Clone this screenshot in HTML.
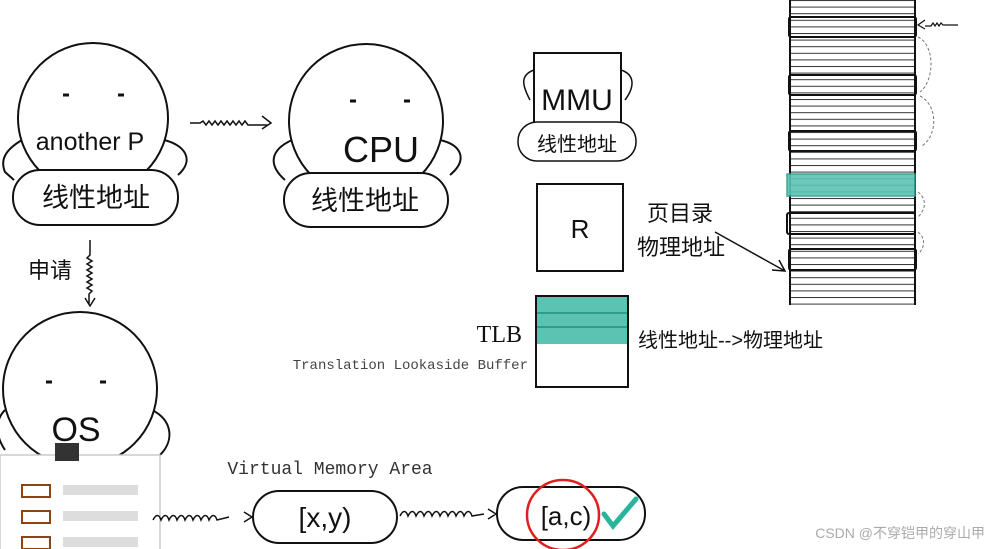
<!DOCTYPE html>
<html><head><meta charset="utf-8"><style>
html,body{margin:0;padding:0;background:#fff;width:991px;height:549px;overflow:hidden}
svg text{font-family:"Liberation Sans","Noto Sans CJK SC",sans-serif;fill:#111}
</style></head><body>
<svg width="991" height="549" viewBox="0 0 991 549" xmlns="http://www.w3.org/2000/svg">
<defs>
<pattern id="rows" x="0" y="0" width="10" height="6.6" patternUnits="userSpaceOnUse">
<line x1="0" y1="0.5" x2="10" y2="0.5" stroke="#333" stroke-width="1"/>
</pattern>
</defs>
<g fill="none" stroke="#111" stroke-width="2">
<!-- head 1 -->
<path d="M22,140 C5,150 0,160 5,172 L14,180 M164,140 C185,145 195,160 178,175"/>
<circle cx="93" cy="118" r="75" fill="#fff"/>
<rect x="13" y="170" width="165" height="55" rx="27" fill="#fff"/>
<!-- head 2 -->
<path d="M292,140 C270,150 268,165 285,180 M440,140 C462,145 468,160 450,175"/>
<circle cx="366" cy="121" r="77" fill="#fff"/>
<rect x="284" y="173" width="164" height="54" rx="27" fill="#fff"/>
<!-- wavy arrow -->
<path stroke-width="1.5" d="M190,123 l10,0 l3,-2 l3,4 l3,-4 l3,4 l3,-4 l3,4 l3,-4 l3,4 l3,-4 l3,4 l3,-4 l3,4 l3,-4 l3,4 l3,-4 l3,4 l20,0 M262,116 l9,7 l-9,6"/>
<!-- 申请 arrow -->
<path stroke-width="1.5" d="M90,240 l0,15 l-3,3 l5,3 l-5,3 l5,3 l-5,3 l5,3 l-5,3 l5,3 l-5,3 l5,3 l-5,3 l5,3 l-3,3 l0,10 M85,298 l5,8 l5,-8"/>
<!-- MMU -->
<path stroke-width="1.5" d="M534,70 C520,75 522,85 530,100 M621,70 C636,75 634,88 625,100"/>
<rect x="534" y="53" width="87" height="71" fill="#fff"/>
<rect x="518" y="122" width="118" height="39" rx="19" fill="#fff" stroke-width="1.5"/>
<rect x="537" y="184" width="86" height="87"/>
<!-- TLB -->
<rect x="536" y="296" width="92" height="48" fill="#5cc3b3" stroke="none"/>
<line x1="536" y1="313" x2="628" y2="313" stroke="#2e9e8c"/>
<line x1="536" y1="327" x2="628" y2="327" stroke="#2e9e8c"/>
<rect x="536" y="296" width="92" height="91"/>
<!-- arrow to memory -->
<path stroke-width="1.5" d="M715,232 L785,271 M772,270 L785,271 L779,260"/>
<!-- memory column -->
<rect x="790" y="0" width="125" height="305" fill="url(#rows)" stroke="none"/>
<line x1="790" y1="0" x2="790" y2="305"/>
<line x1="915" y1="0" x2="915" y2="305"/>
<rect x="787" y="174" width="128" height="22" fill="#5cc3b3" stroke="#2e9e8c" stroke-width="1.5" opacity="0.9"/>
<rect x="789" y="17" width="127" height="20" rx="2"/>
<rect x="789" y="75" width="127" height="20" rx="2"/>
<rect x="789" y="131" width="127" height="20" rx="2"/>
<rect x="787" y="213" width="128" height="21" rx="2"/>
<rect x="789" y="249" width="127" height="21" rx="2"/>
<path stroke-width="1.2" d="M958,25 l-15,0 l-2,-2 l-2,3 l-2,-3 l-2,3 l-2,-3 l-2,3 l-6,0 M925,20 l-7,5 l7,4"/>
<path stroke="#777" stroke-width="1" stroke-dasharray="3,2" d="M918,37 C935,45 935,80 920,92 M920,96 C938,105 938,135 922,146 M918,192 C928,200 925,210 918,217 M918,232 C926,238 925,248 918,254"/>
<!-- OS -->
<path d="M5,410 C-5,420 -5,435 5,450 M152,410 C172,420 175,440 160,455"/>
<circle cx="80" cy="389" r="77" fill="#fff"/>
<rect x="0" y="455" width="160" height="100" fill="#fff" stroke="#ccc" stroke-width="1.5"/>
<rect x="55" y="443" width="24" height="18" fill="#333" stroke="none"/>
<rect x="22" y="485" width="28" height="12" stroke="#8b4513"/>
<rect x="22" y="511" width="28" height="12" stroke="#8b4513"/>
<rect x="22" y="537" width="28" height="12" stroke="#8b4513"/>
<rect x="63" y="485" width="75" height="10" fill="#ddd" stroke="none"/>
<rect x="63" y="511" width="75" height="10" fill="#ddd" stroke="none"/>
<rect x="63" y="537" width="75" height="10" fill="#ddd" stroke="none"/>
<!-- bottom wavy -->
<path stroke-width="1.5" d="M153,520 c3,-6 6,-6 8,0 c3,-6 6,-6 8,0 c3,-6 6,-6 8,0 c3,-6 6,-6 8,0 c3,-6 6,-6 8,0 c3,-6 6,-6 8,0 c3,-6 6,-6 8,0 c3,-6 6,-6 8,0 l12,-3 M244,512 l8,5 l-8,5"/>
<rect x="253" y="491" width="144" height="52" rx="26"/>
<path stroke-width="1.5" d="M400,516 c3,-6 6,-6 8,0 c3,-6 6,-6 8,0 c3,-6 6,-6 8,0 c3,-6 6,-6 8,0 c3,-6 6,-6 8,0 c3,-6 6,-6 8,0 c3,-6 6,-6 8,0 c3,-6 6,-6 8,0 c3,-6 6,-6 8,0 l12,-2 M488,509 l8,5 l-8,5"/>
<rect x="497" y="487" width="148" height="53" rx="26"/>
<ellipse cx="563" cy="515" rx="36" ry="35" stroke="#e02020" stroke-width="2.5"/>
<path d="M604,514 l9,12 l23,-27" stroke="#2bb39b" stroke-width="5" stroke-linecap="round"/>
</g>
<g stroke="#111" stroke-width="3">
<line x1="63" y1="95" x2="69" y2="95"/><line x1="118" y1="95" x2="124" y2="95"/>
<line x1="350" y1="101" x2="356" y2="101"/><line x1="404" y1="101" x2="410" y2="101"/>
<line x1="46" y1="382" x2="52" y2="382"/><line x1="100" y1="382" x2="106" y2="382"/>
</g>
<text x="90" y="150" font-size="25" text-anchor="middle">another P</text>
<text x="96" y="207" font-size="27" text-anchor="middle">线性地址</text>
<text x="381" y="162" font-size="36" text-anchor="middle">CPU</text>
<text x="365" y="210" font-size="27" text-anchor="middle">线性地址</text>
<text x="50" y="278" font-size="22" text-anchor="middle">申请</text>
<text x="577" y="110" font-size="30" text-anchor="middle">MMU</text>
<text x="577" y="151" font-size="20" text-anchor="middle">线性地址</text>
<text x="580" y="238" font-size="26" text-anchor="middle">R</text>
<text x="680" y="221" font-size="22" text-anchor="middle">页目录</text>
<text x="681" y="255" font-size="22" text-anchor="middle">物理地址</text>
<text x="522" y="342" font-size="24" text-anchor="end" style="font-family:'Liberation Serif',serif">TLB</text>
<text x="528" y="369" font-size="14" text-anchor="end" style="font-family:'Liberation Mono',monospace;fill:#444">Translation Lookaside Buffer</text>
<text x="638" y="347" font-size="20">线性地址--&gt;物理地址</text>
<text x="76" y="441" font-size="34" text-anchor="middle">OS</text>
<text x="330" y="474" font-size="18" text-anchor="middle" style="font-family:'Liberation Mono',monospace;fill:#333">Virtual Memory Area</text>
<text x="325" y="527" font-size="28" text-anchor="middle">[x,y)</text>
<text x="566" y="525" font-size="26" text-anchor="middle">[a,c)</text>
<text x="985" y="538" font-size="14" text-anchor="end" style="fill:#aaa">CSDN @不穿铠甲的穿山甲</text>
</svg>
</body></html>
